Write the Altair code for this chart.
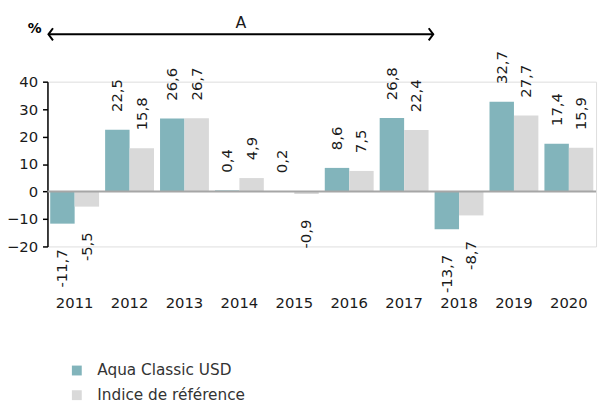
import altair as alt
import pandas as pd

years = ["2011", "2012", "2013", "2014", "2015", "2016", "2017", "2018", "2019", "2020"]
fund = [-11.7, 22.5, 26.6, 0.4, 0.2, 8.6, 26.8, -13.7, 32.7, 17.4]
bench = [-5.5, 15.8, 26.7, 4.9, -0.9, 7.5, 22.4, -8.7, 27.7, 15.9]
series = ["Aqua Classic USD", "Indice de référence"]
colors = ["#82b4bb", "#d9d9d9"]

rows = []
for y, f, b in zip(years, fund, bench):
    for s, v in zip(series, [f, b]):
        rows.append({"year": y, "series": s, "value": v,
                     "label": f"{v:.1f}".replace(".", ",")})
df = pd.DataFrame(rows)

FONT = "DejaVu Sans"
TXT = "#1a1a1a"

xenc = alt.X("year:N", sort=years, title=None,
             scale=alt.Scale(paddingInner=0.11, paddingOuter=0.05),
             axis=alt.Axis(domain=False, ticks=False, labelAngle=0, labelPadding=50,
                           labelFontSize=15, labelColor=TXT, labelFont=FONT))
yenc = alt.Y("value:Q", title=None,
             scale=alt.Scale(domain=[-20, 40], nice=False),
             axis=alt.Axis(values=[-20, -10, 0, 10, 20, 30, 40], grid=False,
                           labelOverlap=False,
                           domainColor="#000000", domainWidth=1.5, tickColor="#000000",
                           tickSize=5, tickWidth=1.5, labelPadding=5, labelFontSize=15,
                           labelColor=TXT, labelFont=FONT))
xoff = alt.XOffset("series:N", sort=series, scale=alt.Scale(paddingInner=0))

base = alt.Chart(df)

bars = base.mark_bar().encode(
    x=xenc, y=yenc, xOffset=xoff,
    color=alt.Color("series:N", sort=series,
                    scale=alt.Scale(domain=series, range=colors),
                    legend=alt.Legend(title=None, orient="none", legendX=22, legendY=285,
                                      symbolType="square", symbolSize=100,
                                      symbolStrokeWidth=0, labelFontSize=15.5,
                                      labelFont=FONT, labelColor="#333333", labelLimit=400,
                                      labelOffset=13, rowPadding=8)),
)

pos_labels = base.transform_filter("datum.value >= 0").mark_text(
    angle=270, align="left", baseline="middle", dx=18, fontSize=15, font=FONT, color=TXT
).encode(x=xenc, y=yenc, xOffset=xoff, text="label:N")

neg_labels = base.transform_filter("datum.value < 0").mark_text(
    angle=270, align="right", baseline="middle", dx=-26, fontSize=15, font=FONT, color=TXT
).encode(x=xenc, y=yenc, xOffset=xoff, text="label:N")

zero = alt.Chart(pd.DataFrame({"value": [0.0]})).mark_rule(color="#a6a6a6", strokeWidth=2).encode(
    y=yenc
)

arrow = alt.Chart(pd.DataFrame({"a": [0]})).mark_rule(color="#000000", strokeWidth=2).encode(
    x=alt.value(1), x2=alt.value(391), y=alt.value(-48)
)
head_l = alt.Chart(pd.DataFrame({"a": [0]})).mark_point(
    shape="M0.75,-1L0,0L0.75,1", size=150, filled=False, color="#000000", strokeWidth=2, opacity=1
).encode(x=alt.value(1), y=alt.value(-48))
head_r = alt.Chart(pd.DataFrame({"a": [0]})).mark_point(
    shape="M-0.75,-1L0,0L-0.75,1", size=150, filled=False, color="#000000", strokeWidth=2, opacity=1
).encode(x=alt.value(391), y=alt.value(-48))

a_text = alt.Chart(pd.DataFrame({"t": ["A"]})).mark_text(
    fontSize=16, font=FONT, color=TXT, baseline="middle", align="center"
).encode(x=alt.value(196), y=alt.value(-59), text="t:N")
pct_text = alt.Chart(pd.DataFrame({"t": ["%"]})).mark_text(
    fontSize=14, font=FONT, fontWeight="bold", color="#000000", baseline="middle", align="center"
).encode(x=alt.value(-13), y=alt.value(-53), text="t:N")

chart = alt.layer(bars, zero, pos_labels, neg_labels, arrow, head_l, head_r, a_text, pct_text).properties(
    width=556, height=167,
    autosize=alt.AutoSizeParams(type="none"),
    padding={"left": 40, "top": 72, "right": 3, "bottom": 156},
).configure_view(stroke=None).configure(font=FONT)

chart.save("out.html", embed_options={"renderer": "svg", "actions": False})
